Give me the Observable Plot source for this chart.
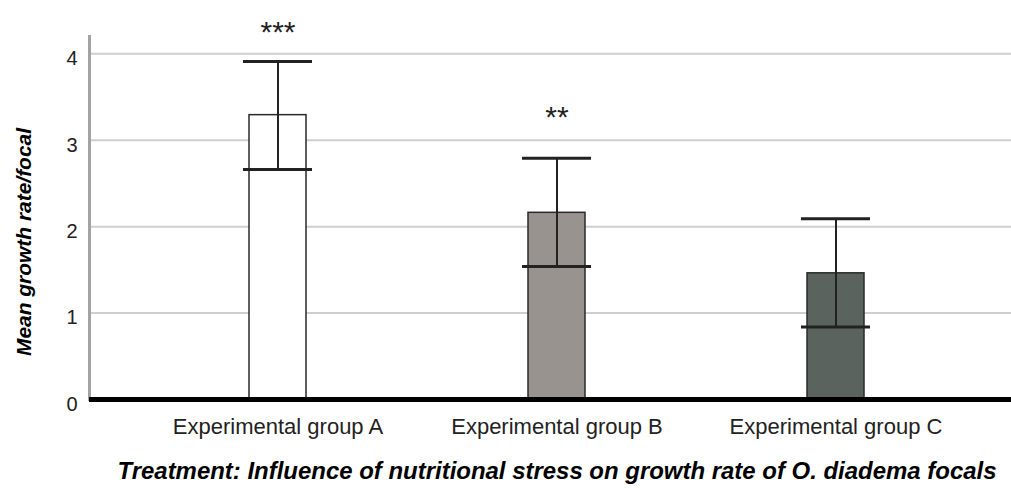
<!DOCTYPE html>
<html>
<head>
<meta charset="utf-8">
<script src="https://cdn.jsdelivr.net/npm/d3@7"></script>
<script src="https://cdn.jsdelivr.net/npm/@observablehq/plot@0.6"></script>
<style>
  html, body { margin: 0; padding: 0; background: #fff; }
  #chart svg { display: block; }
</style>
</head>
<body>
<div id="chart"></div>
<script>
// ---- data ----
const groups = ["Experimental group A", "Experimental group B", "Experimental group C"];
const means = [3.29, 2.16, 1.46];
const errLow = [2.66, 1.54, 0.84];
const errHigh = [3.91, 2.79, 2.09];
const sigLabels = ["***", "**", ""];
const sigY = [4.25, 3.26, null];
const yTicks = [0, 1, 2, 3, 4];
const gridTicks = [1, 2, 3, 4];
const yTitle = "Mean growth rate/focal";
const xTitle = "Treatment: Influence of nutritional stress on growth rate of O. diadema focals";

const barColors = ["#ffffff", "#98938f", "#5b635e"];

const rows = groups.map((g, i) => ({
  group: g, mean: means[i], low: errLow[i], high: errHigh[i], sig: sigLabels[i], sigY: sigY[i]
}));

const FONT = "'Liberation Sans', Arial, Helvetica, sans-serif";

const chart = Plot.plot({
  width: 1011,
  height: 489,
  marginLeft: 89,
  marginRight: 0,
  marginTop: 36,
  marginBottom: 90,
  style: { fontFamily: FONT, color: "#222", background: "#fff" },
  x: { domain: groups, paddingInner: 0.796, paddingOuter: 0.546, align: 0.52, label: null },
  y: { domain: [0, 4.2], label: null },
  color: { domain: groups, range: barColors },
  marks: [
    Plot.ruleY(gridTicks, { stroke: "#cfcfcf", strokeWidth: 2 }),
    Plot.frame({ anchor: "left", stroke: "#a3a3a3", strokeWidth: 3 }),
    Plot.barY(rows, { x: "group", y: "mean", fill: "group", stroke: "#2a2a2a", strokeWidth: 1.5 }),
    Plot.ruleY([0], { stroke: "#000", strokeWidth: 5 }),
    Plot.ruleX(rows, { x: "group", y1: "low", y2: "high", stroke: "#222", strokeWidth: 2 }),
    Plot.tickY(rows, { x: "group", y: "high", stroke: "#222", strokeWidth: 3, insetLeft: -6, insetRight: -6 }),
    Plot.tickY(rows, { x: "group", y: "low", stroke: "#222", strokeWidth: 3, insetLeft: -6, insetRight: -6 }),
    Plot.text(rows.filter(d => d.sig), { x: "group", y: "sigY", text: "sig", fontSize: 30, fill: "#222" }),
    Plot.axisX({ tickSize: 0, tickPadding: 19, fontSize: 22, label: null }),
    Plot.axisY({ ticks: yTicks, tickFormat: "d", tickSize: 0, tickPadding: 12, fontSize: 20, dy: 5, label: null }),
    Plot.text([yTitle], { frameAnchor: "left", textAnchor: "middle", rotate: -90, dx: -65, dy: 24, fontSize: 20,
      fontWeight: "bold", fontStyle: "italic", fill: "#000" }),
    Plot.text([xTitle], { frameAnchor: "bottom", textAnchor: "middle", dx: 6.5, dy: 79, fontSize: 23,
      fontWeight: "bold", fontStyle: "italic", fill: "#000" })
  ]
});

document.getElementById("chart").appendChild(chart);

// fit title lengths to the reference
chart.querySelectorAll("text").forEach(t => {
  if (t.textContent === yTitle) { t.setAttribute("textLength", 228); t.setAttribute("lengthAdjust", "spacingAndGlyphs"); }
  if (t.textContent === xTitle) { t.setAttribute("textLength", 879); t.setAttribute("lengthAdjust", "spacingAndGlyphs"); }
});
</script>
</body>
</html>
